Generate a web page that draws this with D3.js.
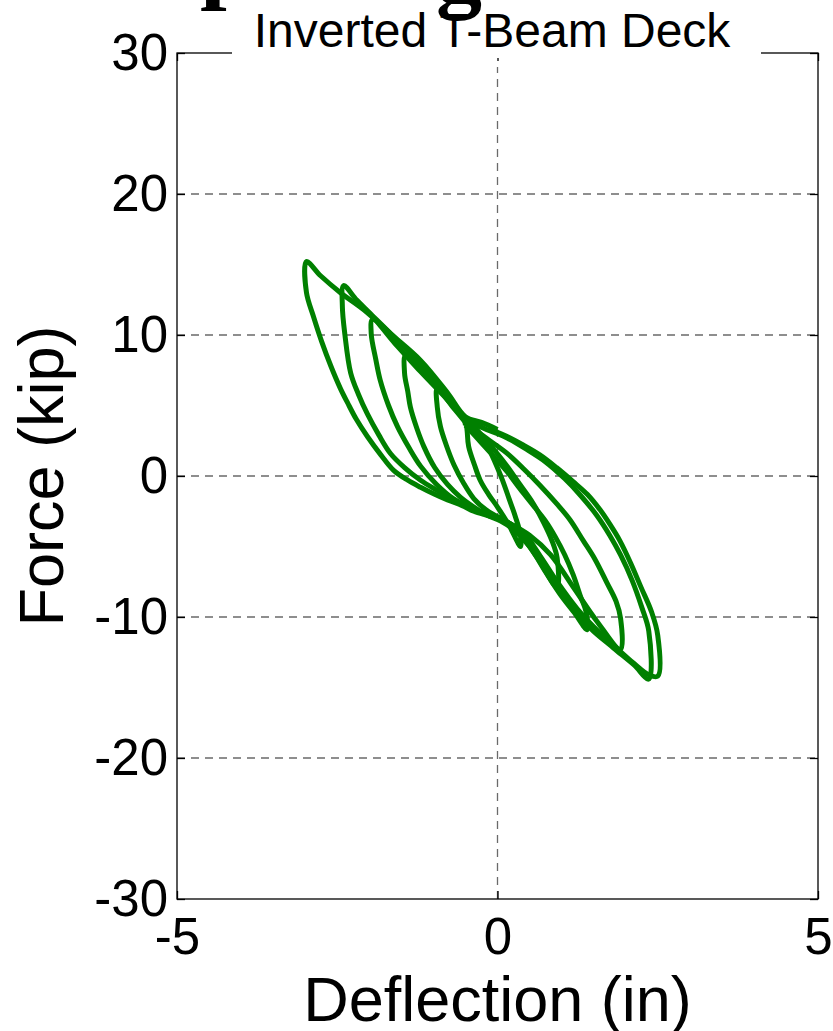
<!DOCTYPE html>
<html>
<head>
<meta charset="utf-8">
<script src="https://cdn.jsdelivr.net/npm/d3@7"></script>
<style>
  body { margin: 0; background: #fff; }
  svg { display: block; }
  text { font-family: "Liberation Sans", Arial, sans-serif; fill: #000; }
  .grid { stroke: #6a6a6a; stroke-width: 1.3; stroke-dasharray: 8,6; }
  .loop { fill: none; stroke: #008000; stroke-width: 5; stroke-linejoin: round; }
</style>
</head>
<body>
<div id="chart"></div>
<script>
// tick labels
var xTicks = [-5, 0, 5];
var yTicks = [-30, -20, -10, 0, 10, 20, 30];

// hysteresis cycles, [deflection (in), force (kip)], small to large
var cycle1 = [[-0.2,2.6],[-0.47,3.9],[-0.47,3.0],[-0.45,2.1],[-0.36,0.8],[-0.27,-0.3],[-0.14,-1.3],
  [0.0,-2.2],[0.18,-3.5],[0.36,-5.0],[0.36,-4.2],[0.28,-2.9],[0.18,-1.6],[0.07,-0.2],[-0.05,1.1],[-0.2,2.6]];

var cycle2 = [[-0.5,3.8],[-0.7,4.9],[-0.94,6.2],[-0.94,4.9],[-0.89,3.5],[-0.8,2.2],[-0.68,0.8],
  [-0.53,-0.5],[-0.37,-1.6],[-0.18,-2.4],[0.0,-2.9],[0.2,-3.4],[0.4,-4.4],[0.65,-6.0],[0.93,-7.9],
  [0.93,-5.8],[0.85,-4.6],[0.72,-3.3],[0.55,-1.9],[0.35,-0.6],[0.15,0.7],[-0.08,2.0],[-0.3,3.0],[-0.5,3.8]];

var cycle3 = [[-0.5,3.6],[-0.53,4.2],[-0.8,5.6],[-1.1,7.1],[-1.43,8.6],[-1.45,7.3],[-1.4,6.0],
  [-1.36,4.9],[-1.26,3.4],[-1.15,2.1],[-0.98,0.6],[-0.78,-0.6],[-0.58,-1.5],[-0.37,-2.2],[-0.15,-2.8],
  [0.05,-3.2],[0.25,-3.8],[0.5,-5.0],[0.75,-6.8],[0.98,-8.4],[1.2,-9.7],[1.4,-10.9],[1.38,-9.6],
  [1.3,-8.6],[1.18,-7.0],[1.05,-5.6],[0.9,-4.3],[0.75,-3.2],[0.56,-2.1],[0.35,-0.9],[0.15,0.3],
  [-0.1,1.6],[-0.3,2.6],[-0.5,3.6]];

var cycle4 = [[-0.3,3.1],[-0.5,4.0],[-0.8,5.5],[-1.2,7.4],[-1.6,9.4],[-1.95,11.1],[-1.97,10.1],
  [-1.9,8.3],[-1.83,6.8],[-1.7,5.0],[-1.56,3.5],[-1.38,2.0],[-1.2,0.7],[-0.95,-0.6],[-0.69,-1.6],
  [-0.35,-2.4],[-0.06,-2.9],[0.2,-3.4],[0.5,-4.2],[0.83,-5.6],[1.2,-8.0],[1.55,-10.3],[1.92,-12.3],
  [1.92,-10.1],[1.85,-8.9],[1.71,-7.6],[1.52,-5.9],[1.34,-4.6],[1.13,-3.1],
  [0.93,-2.0],[0.65,-0.6],[0.41,0.5],[0.15,1.6],[-0.12,2.5],[-0.3,3.1]];

var cycle5 = [[0.0,3.0],[-0.5,4.1],[-0.8,5.8],[-1.2,7.9],[-1.6,9.8],[-2.0,11.6],[-2.2,12.5],
  [-2.4,13.5],[-2.42,12.0],[-2.38,10.0],[-2.29,7.3],[-2.17,5.8],[-2.03,4.4],[-1.85,2.9],[-1.67,1.6],
  [-1.45,0.6],[-1.2,-0.3],[-0.95,-1.0],[-0.68,-1.7],[-0.35,-2.4],[0.0,-2.9],[0.2,-3.4],[0.4,-4.1],
  [0.67,-5.8],[0.93,-7.6],[1.24,-9.6],[1.45,-10.8],[1.81,-12.2],[2.13,-13.4],[2.36,-14.4],[2.36,-11.0],
  [2.25,-9.3],[2.1,-7.4],[1.92,-5.6],[1.75,-4.2],[1.55,-2.8],[1.3,-1.4],[1.05,-0.2],[0.75,1.0],
  [0.45,1.9],[0.15,2.7],[0.0,3.0]];

var cycle6 = [[0.0,3.3],[-0.25,3.8],[-0.5,4.2],[-0.78,5.9],[-1.2,8.2],[-1.67,10.1],[-2.09,11.8],
  [-2.45,13.0],[-2.76,14.2],[-2.98,15.2],[-2.98,13.0],[-2.87,11.3],[-2.74,9.5],[-2.6,7.8],[-2.45,6.2],
  [-2.34,5.2],[-2.2,4.0],[-2.03,2.8],[-1.82,1.5],[-1.62,0.4],[-1.4,-0.3],[-1.2,-0.8],[-0.98,-1.3],
  [-0.78,-1.7],[-0.55,-2.1],[-0.37,-2.5],[-0.15,-2.8],[0.0,-3.0],[0.2,-3.4],[0.4,-4.0],[0.67,-5.7],
  [0.93,-7.5],[1.24,-9.4],[1.5,-10.7],[1.81,-12.0],[2.13,-13.3],[2.36,-14.1],[2.5,-14.2],[2.5,-11.3],
  [2.4,-9.6],[2.24,-7.9],[2.08,-6.2],[1.91,-4.6],[1.75,-3.4],[1.6,-2.4],[1.4,-1.3],[1.18,-0.4],
  [0.92,0.6],[0.66,1.5],[0.4,2.2],[0.15,2.8],[0.0,3.1],[-0.12,3.3]];

var cycles = [cycle1, cycle2, cycle3, cycle4, cycle5, cycle6];

var width = 833, height = 1031;
var margin = {top: 53, right: 15, bottom: 132, left: 177};

var svg = d3.select('#chart').append('svg')
    .attr('width', width)
    .attr('height', height);

var xScale = d3.scaleLinear().domain([-5, 5]).range([margin.left, width - margin.right]),
    yScale = d3.scaleLinear().domain([-30, 30]).range([height - margin.bottom, margin.top]);

var x0 = xScale.range()[0], x1 = xScale.range()[1],
    yB = yScale.range()[0], yT = yScale.range()[1];

// grid
svg.append('g').selectAll('line.h')
    .data(yTicks.filter(function(d) { return d > -30 && d < 30; }))
  .enter().append('line')
    .attr('class', 'grid')
    .attr('x1', x0).attr('x2', x1)
    .attr('y1', function(d) { return yScale(d); })
    .attr('y2', function(d) { return yScale(d); });

svg.append('g').selectAll('line.v')
    .data(xTicks.filter(function(d) { return d > -5 && d < 5; }))
  .enter().append('line')
    .attr('class', 'grid')
    .attr('y1', yB).attr('y2', yT + 14)
    .attr('x1', function(d) { return xScale(d); })
    .attr('x2', function(d) { return xScale(d); });

// loops
var line = d3.line()
    .x(function(d) { return xScale(d[0]); })
    .y(function(d) { return yScale(d[1]); })
    .curve(d3.curveCatmullRom.alpha(0.5));

svg.append('g').selectAll('path')
    .data(cycles)
  .enter().append('path')
    .attr('class', 'loop')
    .attr('d', line);

// axes, ticks inside like matlab, plain hyphen minus
var fmt = function(d) { return String(d); };

var xAxis = svg.append('g')
    .attr('transform', 'translate(0,' + yB + ')')
    .call(d3.axisBottom(xScale).tickValues(xTicks).tickFormat(fmt).tickSizeInner(-8).tickSizeOuter(0).tickPadding(19));
var yAxis = svg.append('g')
    .attr('transform', 'translate(' + x0 + ',0)')
    .call(d3.axisLeft(yScale).tickValues(yTicks).tickFormat(fmt).tickSizeInner(-8).tickSizeOuter(0).tickPadding(9));
var xTop = svg.append('g')
    .attr('transform', 'translate(0,' + yT + ')')
    .call(d3.axisTop(xScale).tickValues(xTicks).tickSizeInner(-8).tickSizeOuter(0).tickFormat(''));
var yRight = svg.append('g')
    .attr('transform', 'translate(' + x1 + ',0)')
    .call(d3.axisRight(yScale).tickValues(yTicks).tickSizeInner(-8).tickSizeOuter(0).tickFormat(''));

[xAxis, yAxis, xTop, yRight].forEach(function(a) {
  a.select('.domain').remove();
  a.selectAll('.tick line').attr('stroke', '#000').attr('stroke-width', 1.3);
  a.selectAll('.tick text')
      .style('font-size', '51px')
      .style('font-family', '"Liberation Sans", Arial, sans-serif')
      .attr('fill', '#000');
});

svg.append('rect')
    .attr('x', x0).attr('y', yT)
    .attr('width', x1 - x0).attr('height', yB - yT)
    .attr('fill', 'none')
    .attr('stroke', '#000')
    .attr('stroke-width', 1.3);

// title on a white band over the top edge
svg.append('rect')
    .attr('x', 232).attr('y', 24)
    .attr('width', 529).attr('height', 34)
    .attr('fill', '#fff');

svg.append('text')
    .attr('x', 492).attr('y', 47)
    .style('font-size', '48px')
    .style('text-anchor', 'middle')
    .text('Inverted T-Beam Deck');

// cut-off figure heading above the plot
svg.append('text')
    .attr('x', 200).attr('y', -9)
    .style('font-family', '"Liberation Serif", "Times New Roman", serif')
    .style('font-weight', 'bold')
    .style('font-size', '96px')
    .text('p');
svg.append('text')
    .attr('x', 459).attr('y', 2)
    .style('font-family', '"Liberation Serif", "Times New Roman", serif')
    .style('font-weight', 'bold')
    .style('font-size', '92px')
    .style('text-anchor', 'middle')
    .text('g');

// axis labels
svg.append('text')
    .attr('x', (x0 + x1) / 2).attr('y', 1021)
    .style('font-size', '63px')
    .style('text-anchor', 'middle')
    .text('Deflection (in)');

svg.append('text')
    .attr('transform', 'translate(63,' + (yB + yT) / 2 + ') rotate(-90)')
    .style('font-size', '63px')
    .style('text-anchor', 'middle')
    .text('Force (kip)');
</script>
</body>
</html>
